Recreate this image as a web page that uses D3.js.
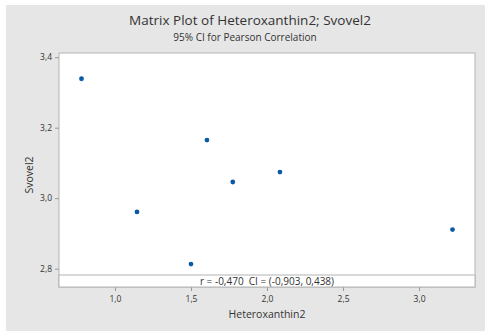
<!DOCTYPE html>
<html>
<head>
<meta charset="utf-8">
<script src="https://d3js.org/d3.v7.min.js"></script>
<style>
  body { margin: 0; background: #fff; }
  svg text { font-family: "Open Sans", "Noto Sans", sans-serif; fill: #333; }
</style>
</head>
<body>
<div id="chart"></div>
<script>
// values
const heteroxanthin = [0.78, 1.145, 1.50, 1.605, 1.775, 2.085, 3.22];
const svovel = [3.339, 2.961, 2.813, 3.165, 3.046, 3.074, 2.911];
const xTicks = [1.0, 1.5, 2.0, 2.5, 3.0];
const yTicks = [2.8, 3.0, 3.2, 3.4];
const corrText = "r = -0,470  CI = (-0,903, 0,438)";

const W = 491, H = 331;
const plot = { left: 59, top: 53, right: 475, bottom: 287 };

const svg = d3.select("#chart").append("svg")
  .attr("width", W).attr("height", H);

// grey panel
svg.append("rect")
  .attr("x", 6).attr("y", 5)
  .attr("width", 479).attr("height", 326)
  .attr("fill", "#e6e6e6");

const x = d3.scaleLinear()
  .domain([0.632, 3.368])
  .range([plot.left, plot.right]);

const y = d3.scaleLinear()
  .domain([2.748, 3.412])
  .range([plot.bottom, plot.top]);

const fmt = d => d3.format(".1f")(d).replace(".", ",");

// data area
svg.append("rect")
  .attr("x", plot.left).attr("y", plot.top)
  .attr("width", plot.right - plot.left)
  .attr("height", plot.bottom - plot.top)
  .attr("fill", "#fff")
  .attr("stroke", "#b4b4b4");

// axes
const xAxis = svg.append("g")
  .attr("transform", `translate(0,${plot.bottom})`)
  .call(d3.axisBottom(x).tickValues(xTicks).tickFormat(fmt).tickSize(4).tickSizeOuter(0));

const yAxis = svg.append("g")
  .attr("transform", `translate(${plot.left},0)`)
  .call(d3.axisLeft(y).tickValues(yTicks).tickFormat(fmt).tickSize(4).tickSizeOuter(0));

[xAxis, yAxis].forEach(g => {
  g.select(".domain").remove();
  g.selectAll(".tick line").attr("stroke", "#999");
  g.selectAll(".tick text").attr("font-size", 8.5).attr("fill", "#444");
});
xAxis.selectAll(".tick text").attr("dy", "0.9em");

// correlation box
svg.append("rect")
  .attr("x", plot.left).attr("y", 275)
  .attr("width", plot.right - plot.left)
  .attr("height", plot.bottom - 275)
  .attr("fill", "#fff")
  .attr("stroke", "#b4b4b4");

svg.append("text")
  .attr("x", 267).attr("y", 285)
  .attr("text-anchor", "middle")
  .attr("font-size", 10)
  .style("white-space", "pre")
  .attr("fill", "#222")
  .text(corrText);

// points
svg.selectAll("circle.pt")
  .data(heteroxanthin.map((v, i) => ({ x: v, y: svovel[i] })))
  .enter().append("circle")
  .attr("class", "pt")
  .attr("cx", d => x(d.x))
  .attr("cy", d => y(d.y))
  .attr("r", 2.4)
  .attr("fill", "#0a5aa8");

// titles
svg.append("text")
  .attr("x", 250).attr("y", 25)
  .attr("text-anchor", "middle")
  .attr("font-size", 13.5)
  .attr("font-weight", 500)
  .attr("fill", "#111")
  .text("Matrix Plot of Heteroxanthin2; Svovel2");

svg.append("text")
  .attr("x", 245).attr("y", 41)
  .attr("text-anchor", "middle")
  .attr("font-size", 10)
  .attr("fill", "#222")
  .text("95% CI for Pearson Correlation");

svg.append("text")
  .attr("x", 267).attr("y", 318)
  .attr("text-anchor", "middle")
  .attr("font-size", 10.5)
  .attr("fill", "#222")
  .text("Heteroxanthin2");

svg.append("text")
  .attr("transform", "translate(33,175) rotate(-90)")
  .attr("text-anchor", "middle")
  .attr("font-size", 10.5)
  .attr("fill", "#222")
  .text("Svovel2");
</script>
</body>
</html>
